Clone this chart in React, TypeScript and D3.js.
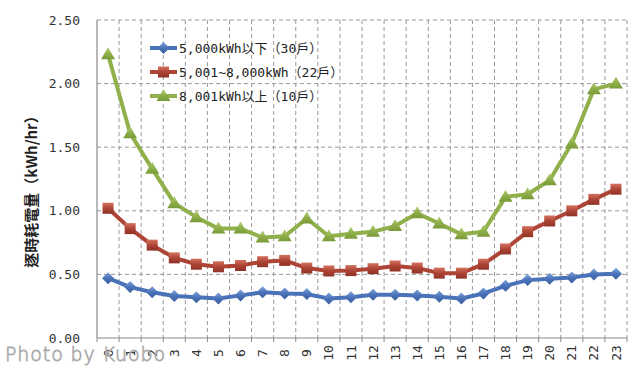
import * as d3 from "d3";

const hours = d3.range(0, 24).map(String);

const lowUse = [0.47, 0.40, 0.36, 0.33, 0.32, 0.31, 0.335, 0.36, 0.35, 0.345, 0.31, 0.32,
  0.34, 0.34, 0.335, 0.325, 0.31, 0.35, 0.41, 0.455, 0.465, 0.475, 0.50, 0.505];
const midUse = [1.02, 0.86, 0.73, 0.63, 0.58, 0.56, 0.57, 0.60, 0.61, 0.55, 0.527, 0.53,
  0.545, 0.566, 0.55, 0.51, 0.51, 0.58, 0.70, 0.836, 0.92, 1.00, 1.09, 1.17];
const highUse = [2.23, 1.61, 1.33, 1.06, 0.95, 0.86, 0.86, 0.79, 0.80, 0.94, 0.80, 0.82,
  0.836, 0.88, 0.98, 0.90, 0.815, 0.836, 1.11, 1.13, 1.24, 1.53, 1.955, 2.00];

const seriesNames = ["5,000kWh以下（30戶）", "5,001~8,000kWh（22戶）", "8,001kWh以上（10戶）"];
const yTicks = [0, 0.5, 1, 1.5, 2, 2.5];
const yTitle = "逐時耗電量（kWh/hr）";

const series = [
  { name: seriesNames[0], values: lowUse, line: "#4a72b8", light: "#7fa3dc", dark: "#3a5f9e", shape: "diamond" },
  { name: seriesNames[1], values: midUse, line: "#ad4435", light: "#d4735f", dark: "#8e3326", shape: "square" },
  { name: seriesNames[2], values: highUse, line: "#8fb04a", light: "#b5cf7a", dark: "#789a38", shape: "triangle" },
];

const margin = { top: 20, right: 13, bottom: 33, left: 97 };
const W = 640;
const H = 371;

const Marker = ({ shape, x, y, id }) => {
  const fill = `url(#${id})`;
  if (shape === "diamond") {
    return <path d={`M${x},${y - 6}L${x + 6},${y}L${x},${y + 6}L${x - 6},${y}Z`} fill={fill} />;
  }
  if (shape === "square") {
    return <rect x={x - 5.5} y={y - 5.5} width={11} height={11} fill={fill} />;
  }
  return <path d={`M${x},${y - 7}L${x + 7},${y + 5}L${x - 7},${y + 5}Z`} fill={fill} />;
};

export default function App() {
  const width = W - margin.left - margin.right;
  const height = H - margin.top - margin.bottom;

  const x = d3.scaleBand().domain(hours).range([0, width]);
  const y = d3.scaleLinear().domain([0, 2.5]).range([height, 0]);

  const line = d3
    .line<number>()
    .x((d, i) => x(hours[i])! + x.bandwidth() / 2)
    .y((d) => y(d));

  const boundaries = d3.range(0, 25).map((i) => i * x.bandwidth());

  return (
    <svg width={W} height={H} style={{ position: "absolute", left: 0, top: 0, background: "#fff" }}>
      <defs>
        {series.map((s, i) => (
          <linearGradient key={i} id={`g${i}`} x1="0" y1="0" x2="0" y2="1">
            <stop offset="0" stopColor={s.light} />
            <stop offset="0.5" stopColor={s.line} />
            <stop offset="1" stopColor={s.dark} />
          </linearGradient>
        ))}
      </defs>
      <g transform={`translate(${margin.left},${margin.top})`}>
        {/* grid */}
        {yTicks.filter((t) => t > 0).map((t) => (
          <line key={t} x1={0} x2={width} y1={y(t)} y2={y(t)} stroke="#999" strokeDasharray="4,3" />
        ))}
        {boundaries.slice(1).map((b) => (
          <line key={b} x1={b} x2={b} y1={0} y2={height} stroke="#999" strokeDasharray="4,3" />
        ))}
        {/* axes */}
        <line x1={0} x2={0} y1={0} y2={height} stroke="#888" strokeWidth={1.2} />
        <line x1={0} x2={width} y1={height} y2={height} stroke="#888" strokeWidth={1.2} />
        {boundaries.map((b) => (
          <line key={"t" + b} x1={b} x2={b} y1={height} y2={height + 4} stroke="#888" />
        ))}
        {yTicks.map((t) => (
          <text key={"l" + t} x={-17} y={y(t)} dy="0.35em" textAnchor="end"
            fontFamily="DejaVu Sans Mono" fontSize={13} fill="#333">
            {t.toFixed(2)}
          </text>
        ))}
        {hours.map((h) => {
          const cx = x(h)! + x.bandwidth() / 2;
          const cy = height + 15;
          return (
            <text key={"h" + h} x={cx} y={cy} dy="0.35em" textAnchor="middle"
              transform={`rotate(-90,${cx},${cy})`}
              fontFamily="DejaVu Sans Mono" fontSize={13} fill="#333">
              {h}
            </text>
          );
        })}
        {/* series */}
        {series.map((s, i) => (
          <g key={s.name}>
            <path d={line(s.values)!} fill="none" stroke={s.line} strokeWidth={4} strokeLinejoin="round" />
            {s.values.map((v, j) => (
              <Marker key={j} shape={s.shape} x={x(hours[j])! + x.bandwidth() / 2} y={y(v)} id={`g${i}`} />
            ))}
          </g>
        ))}
        {/* legend */}
        {series.map((s, i) => {
          const ly = 28 + i * 24;
          return (
            <g key={"lg" + i} transform={`translate(53,${ly})`}>
              <line x1={0} x2={27} y1={0} y2={0} stroke={s.line} strokeWidth={4} />
              <Marker shape={s.shape} x={13.5} y={0} id={`g${i}`} />
              <text x={29} y={0} dy="0.36em" fontFamily="DejaVu Sans Mono, Noto Sans CJK TC" fontSize={13} fill="#222">
                {s.name}
              </text>
            </g>
          );
        })}
      </g>
      <text transform={`translate(32,188) rotate(-90)`} textAnchor="middle" dy="0.35em"
        fontFamily="Noto Sans CJK TC" fontSize={15} fontWeight="bold" fill="#222">
        {yTitle}
      </text>
      <text x={5} y={361} fontFamily="DejaVu Sans" fontSize={19} fontWeight={200}
        fill="#fff" stroke="#aaa" strokeWidth={0.8} textLength={160}>
        Photo by Kuobo
      </text>
    </svg>
  );
}
